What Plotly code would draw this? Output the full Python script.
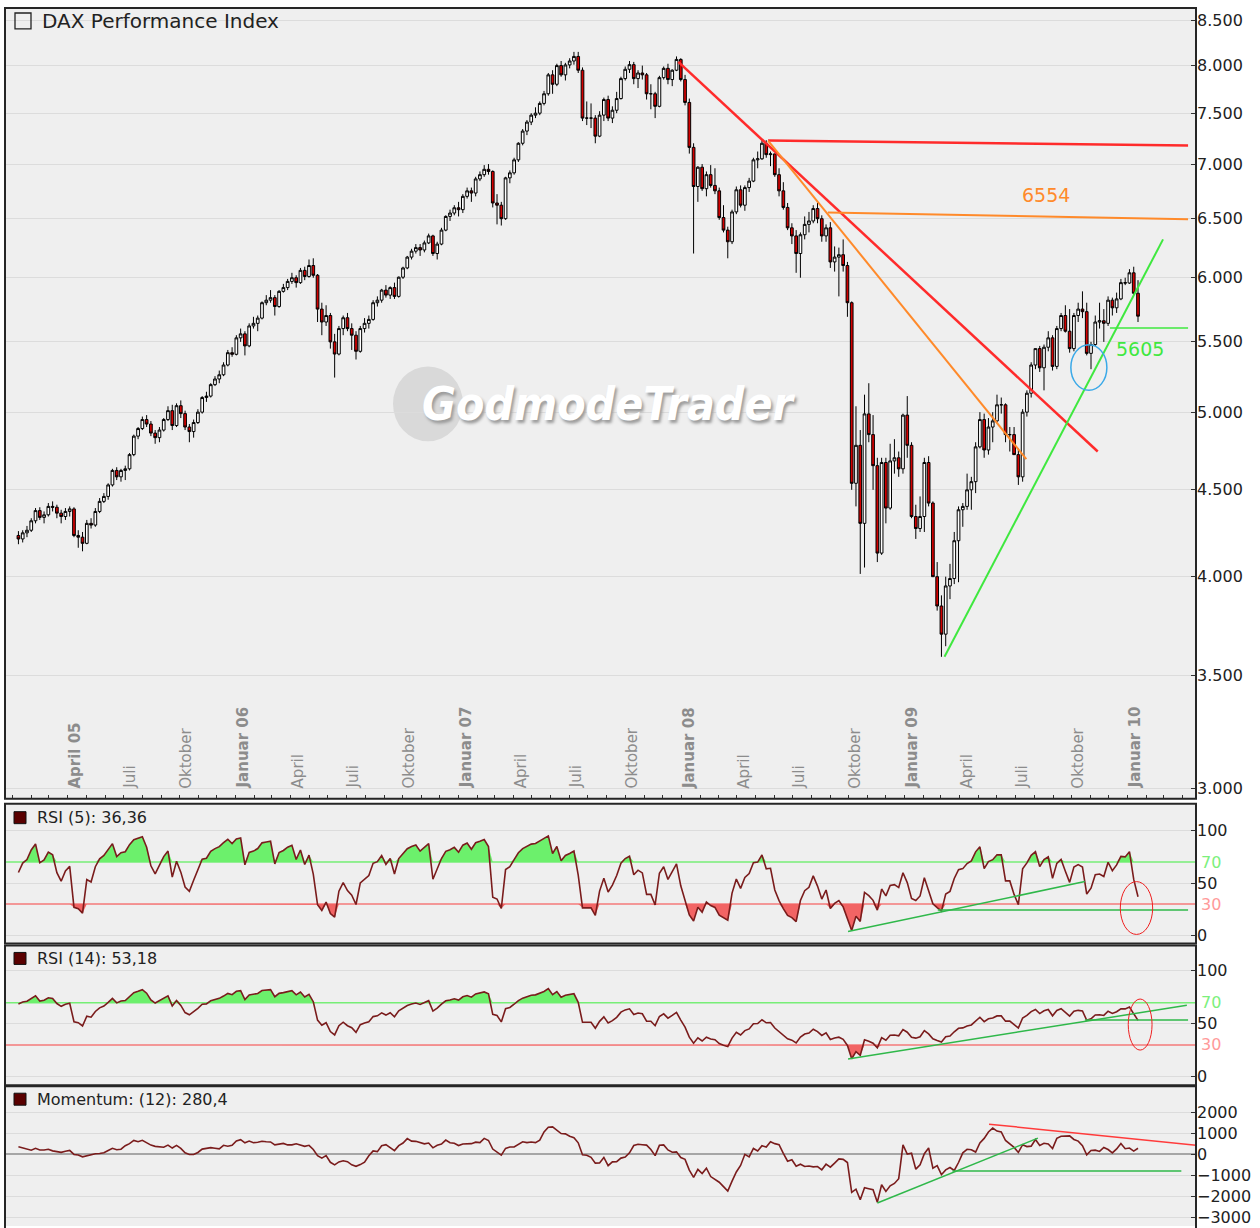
import numpy as np
import pandas as pd
import plotly.graph_objects as go

W, H = 1260, 1228
FONT = "DejaVu Sans"

# ---------------- data (weekly DAX candles) ----------------
first_week = "2005-01-10"
warmup_closes = [3960, 3990, 3880, 3860, 3950, 4040, 4130, 4100, 4140, 4150,
                 4170, 4240, 4250, 4256, 4230]

opens = [
    4230, 4210, 4245, 4260, 4315, 4375, 4335, 4350, 4400, 4395,
    4360, 4340, 4370, 4385, 4230, 4220, 4185, 4300, 4290, 4370,
    4430, 4460, 4530, 4620, 4580, 4620, 4630, 4720, 4840, 4890,
    4950, 4920, 4860, 4830, 4880, 4950, 5010, 4910, 5044, 4990,
    4900, 4870, 4930, 5000, 5100, 5110, 5190, 5230, 5260, 5330,
    5420,
    5408, 5530, 5560, 5470, 5620, 5640, 5680, 5800, 5820,
    5840, 5770, 5890, 5920, 5970, 6000, 5960, 6060, 6010, 6100,
    6020, 5750, 5650, 5700, 5500, 5410, 5600, 5683, 5600, 5550,
    5430, 5600, 5640, 5670, 5800, 5820, 5900, 5860, 5920, 5850,
    6004, 6080, 6170, 6220, 6250, 6230, 6290, 6350, 6200, 6280,
    6400, 6520, 6550,
    6597, 6580, 6700, 6750, 6730, 6860, 6900,
    6950, 6930, 6640, 6620, 6500, 6870, 6917, 7040, 7200, 7320,
    7410, 7480, 7500, 7600, 7700, 7900, 7800, 8000, 7900, 8007,
    8050, 8100, 7950, 7450, 7450, 7450, 7270, 7480, 7640, 7450,
    7530, 7650, 7860, 7960, 8010, 7860, 7920, 7900, 7700, 7700,
    7570, 7870, 7970, 7850, 7950,
    8067, 7850, 7610, 7160, 6790,
    6970, 6770, 6900, 6800, 6750, 6510, 6400, 6300, 6560, 6760,
    6620, 6780, 6840, 7040, 7050, 7200, 7090, 7097, 6900, 6750,
    6600, 6420, 6350, 6200, 6360, 6450, 6480, 6590, 6500, 6350,
    6420, 6130, 6170, 6190, 6100, 5800, 4540, 4780, 4300, 4988,
    4850, 4650, 4130, 4670, 4390, 4680, 4700,
    4630, 4980, 4780,
    4340, 4270, 4340, 4670, 4420, 4000, 3844, 3700, 3950, 3990,
    4200, 4380, 4400, 4500, 4550, 4770, 4950, 4750, 4900, 4941,
    5050, 5050, 4850, 4850, 4720, 4580, 5000, 5130, 5330, 5450,
    5310, 5460, 5530, 5320, 5600, 5700, 5580, 5450, 5700, 5750,
    5730, 5415, 5480, 5650, 5660, 5640, 5820, 5760, 5830, 5960,
    5957, 6040, 5875,
]

highs = [
    4255, 4260, 4285, 4330, 4390, 4395, 4370, 4420, 4430, 4410,
    4380, 4390, 4400, 4395, 4260, 4250, 4320, 4330, 4390, 4450,
    4480, 4540, 4630, 4640, 4630, 4650, 4730, 4850, 4900, 4970,
    4980, 4940, 4880, 4900, 4960, 5040, 5050, 5060, 5080, 5010,
    4920, 4950, 5020, 5110, 5140, 5200, 5250, 5290, 5350, 5440,
    5460,
    5550, 5600, 5580, 5640, 5690, 5700, 5810, 5860, 5900,
    5860, 5900, 5950, 5990, 6040, 6020, 6080, 6090, 6150, 6160,
    6030, 5800, 5780, 5720, 5560, 5620, 5700, 5720, 5640, 5580,
    5620, 5680, 5700, 5820, 5850, 5910, 5940, 5930, 5960, 6010,
    6090, 6180, 6240, 6280, 6280, 6310, 6370, 6360, 6300, 6420,
    6530, 6580, 6620,
    6650, 6720, 6780, 6780, 6880, 6930, 6990,
    7000, 6940, 6720, 6650, 6880, 6940, 7060, 7210, 7340, 7430,
    7500, 7560, 7620, 7730, 7920, 7950, 8020, 8050, 8030, 8080,
    8150, 8150, 7980, 7620, 7600, 7480, 7520, 7660, 7680, 7570,
    7720, 7880, 7990, 8050, 8040, 7950, 8000, 7920, 7800, 7720,
    7890, 7990, 8020, 7960, 8100,
    8080, 7900, 7650, 7200, 6980,
    7000, 6930, 6990, 6960, 6780, 6620, 6430, 6580, 6790, 6800,
    6800, 6870, 7060, 7120, 7230, 7230, 7120, 7100, 6960, 6830,
    6640, 6460, 6400, 6380, 6520, 6560, 6620, 6640, 6530, 6450,
    6470, 6260, 6250, 6320, 6130, 5810, 5040, 4880, 5120, 5200,
    4980, 4700, 4700, 4700, 4790, 4820, 4740,
    4990, 5110, 4800,
    4410, 4460, 4700, 4710, 4430, 4080, 3900, 4000, 4070, 4250,
    4400, 4420, 4600, 4580, 4800, 5000, 4990, 4960, 5000, 5120,
    5100, 5060, 4900, 4900, 4760, 5020, 5150, 5350, 5450, 5470,
    5480, 5580, 5550, 5620, 5720, 5780, 5750, 5720, 5800, 5890,
    5800, 5500, 5700, 5800, 5750, 5850, 5840, 5880, 5990, 6000,
    6070, 6090, 5980,
]

lows = [
    4180, 4190, 4220, 4250, 4300, 4320, 4300, 4340, 4370, 4330,
    4300, 4320, 4340, 4220, 4160, 4140, 4180, 4270, 4280, 4360,
    4420, 4440, 4520, 4560, 4550, 4560, 4620, 4710, 4820, 4880,
    4900, 4840, 4790, 4800, 4870, 4940, 4880, 4900, 4960, 4880,
    4800, 4830, 4920, 4990, 5070, 5100, 5180, 5200, 5250, 5320,
    5390,
    5400, 5500, 5400, 5460, 5600, 5580, 5670, 5780, 5800,
    5700, 5760, 5880, 5900, 5950, 5920, 5950, 5980, 6000, 6000,
    5650, 5550, 5620, 5450, 5240, 5400, 5550, 5580, 5440, 5370,
    5420, 5570, 5600, 5660, 5770, 5800, 5840, 5830, 5830, 5840,
    5990, 6070, 6150, 6200, 6180, 6210, 6280, 6180, 6150, 6270,
    6390, 6480, 6530,
    6520, 6550, 6680, 6650, 6700, 6840, 6880,
    6900, 6600, 6450, 6440, 6490, 6820, 6900, 7020, 7180, 7280,
    7380, 7450, 7480, 7580, 7680, 7700, 7780, 7880, 7840, 7970,
    8010, 7920, 7420, 7380, 7350, 7200, 7260, 7420, 7420, 7400,
    7500, 7640, 7840, 7920, 7800, 7760, 7850, 7640, 7540, 7450,
    7560, 7850, 7800, 7780, 7940,
    7830, 7580, 7100, 6200, 6650,
    6750, 6700, 6780, 6720, 6490, 6380, 6160, 6280, 6540, 6600,
    6570, 6740, 6830, 6960, 7040, 7060, 6980, 6880, 6700, 6580,
    6400, 6280, 6040, 6000, 6320, 6380, 6460, 6460, 6300, 6300,
    6080, 6050, 5850, 6050, 5690, 4500, 4400, 4015, 4050, 4800,
    4500, 4080, 4120, 4300, 4380, 4600, 4580,
    4600, 4700, 4330,
    4210, 4250, 4250, 4400, 4000, 3820, 3588, 3640, 3880, 3960,
    3970, 4280, 4380, 4380, 4480, 4760, 4700, 4720, 4800, 4930,
    4990, 4800, 4740, 4720, 4530, 4550, 4970, 5100, 5300, 5280,
    5150, 5430, 5290, 5300, 5580, 5570, 5420, 5430, 5650, 5680,
    5400, 5300, 5470, 5600, 5500, 5620, 5700, 5720, 5820, 5940,
    5950, 5860, 5650,
]

closes = [
    4210, 4245, 4260, 4315, 4375, 4335, 4350, 4400, 4395, 4360,
    4340, 4370, 4385, 4230, 4220, 4185, 4300, 4290, 4370, 4430,
    4460, 4530, 4620, 4580, 4620, 4630, 4720, 4840, 4890, 4950,
    4920, 4860, 4830, 4880, 4950, 5010, 4910, 5044, 4990, 4900,
    4870, 4930, 5000, 5100, 5110, 5190, 5230, 5260, 5330, 5420,
    5408,
    5530, 5560, 5470, 5620, 5640, 5680, 5800, 5820, 5840,
    5770, 5890, 5920, 5970, 6000, 5960, 6060, 6010, 6100, 6020,
    5750, 5650, 5700, 5500, 5410, 5600, 5683, 5600, 5550, 5430,
    5600, 5640, 5670, 5800, 5820, 5900, 5860, 5920, 5850, 6004,
    6080, 6170, 6220, 6250, 6230, 6290, 6350, 6200, 6280, 6400,
    6520, 6550, 6597,
    6580, 6700, 6750, 6730, 6860, 6900, 6950,
    6930, 6640, 6620, 6500, 6870, 6917, 7040, 7200, 7320, 7410,
    7480, 7500, 7600, 7700, 7900, 7800, 8000, 7900, 8007, 8050,
    8100, 7950, 7450, 7450, 7450, 7270, 7480, 7640, 7450, 7530,
    7650, 7860, 7960, 8010, 7860, 7920, 7900, 7700, 7700, 7570,
    7870, 7970, 7850, 7950, 8067,
    7850, 7610, 7160, 6790, 6970,
    6770, 6900, 6800, 6750, 6510, 6400, 6300, 6560, 6760, 6620,
    6780, 6840, 7040, 7050, 7200, 7090, 7097, 6900, 6750, 6600,
    6420, 6350, 6200, 6360, 6450, 6480, 6590, 6500, 6350, 6420,
    6130, 6170, 6190, 6100, 5800, 4540, 4780, 4300, 4988, 4850,
    4650, 4130, 4670, 4390, 4680, 4700, 4630,
    4980, 4780, 4340,
    4270, 4340, 4670, 4420, 4000, 3844, 3700, 3950, 3990, 4200,
    4380, 4400, 4500, 4550, 4770, 4950, 4750, 4900, 4941, 5050,
    5050, 4850, 4850, 4720, 4580, 5000, 5130, 5330, 5450, 5310,
    5460, 5530, 5320, 5600, 5700, 5580, 5450, 5700, 5750, 5730,
    5415, 5480, 5650, 5660, 5640, 5820, 5760, 5830, 5960, 5957,
    6040, 5875, 5695,
]

price_ticks = [3000, 3500, 4000, 4500, 5000, 5500, 6000, 6500, 7000, 7500, 8000, 8500]
price_tick_labels = ["3.000", "3.500", "4.000", "4.500", "5.000", "5.500",
                     "6.000", "6.500", "7.000", "7.500", "8.000", "8.500"]
mom_ticks = [-3000, -2000, -1000, 0, 1000, 2000]
mom_tick_labels = ["\u22123000", "\u22122000", "\u22121000", "0", "1000", "2000"]

month_label_dates = ["2005-04-01", "2005-07-01", "2005-10-01", "2006-01-01", "2006-04-01",
                     "2006-07-01", "2006-10-01", "2007-01-01", "2007-04-01", "2007-07-01",
                     "2007-10-01", "2008-01-01", "2008-04-01", "2008-07-01", "2008-10-01",
                     "2009-01-01", "2009-04-01", "2009-07-01", "2009-10-01", "2010-01-01"]
month_label_texts = ["April 05", "Juli", "Oktober", "Januar 06", "April", "Juli", "Oktober",
                     "Januar 07", "April", "Juli", "Oktober", "Januar 08", "April", "Juli",
                     "Oktober", "Januar 09", "April", "Juli", "Oktober", "Januar 10"]

# analyst trend lines (dates, values)
red_trend_dates, red_trend_values = ["2007-12-27", "2009-11-13"], [8041, 4740]
red_level_dates, red_level_values = ["2008-05-22", "2010-04-10"], [7227, 7178]
orange_trend_dates, orange_trend_values = ["2008-05-22", "2009-07-19"], [7227, 4692]
orange_level_dates, orange_level_values = ["2008-08-28", "2010-04-10"], [6554, 6495]
green_trend_dates, green_trend_values = ["2009-03-07", "2010-02-28"], [3588, 6320]
green_level_dates, green_level_values = ["2009-12-03", "2010-04-10"], [5605, 5605]
circle_dates, circle_values = ["2009-09-30", "2009-11-28"], [5150, 5479]

rsi5_trend_dates, rsi5_trend_values = ["2008-09-30", "2009-10-23"], [3.8, 51.4]
rsi5_level_dates, rsi5_level_values = ["2009-02-24", "2010-04-10"], [24.3, 24.3]
rsi5_ellipse_dates, rsi5_ellipse_values = ["2009-12-20", "2010-02-11"], [1, 51.4]
rsi14_trend_dates, rsi14_trend_values = ["2008-09-30", "2010-04-08"], [16.8, 67.5]
rsi14_level_dates, rsi14_level_values = ["2009-10-23", "2010-04-10"], [53.6, 53.6]
rsi14_ellipse_dates, rsi14_ellipse_values = ["2010-01-02", "2010-02-10"], [25.2, 73.4]
mom_red_dates, mom_red_values = ["2009-05-19", "2010-04-23"], [1430, 424]
mom_green_dates, mom_green_values = ["2008-11-17", "2009-08-07"], [-2333, 762]
mom_level_dates, mom_level_values = ["2009-03-20", "2010-03-30"], [-810, -810]

# ---------------- indicators computed from the closes ----------------
def wilder_rsi(values, n):
    v = np.asarray(values, float)
    d = np.diff(v)
    up = np.clip(d, 0, None)
    dn = np.clip(-d, 0, None)
    out = np.full(v.size, np.nan)
    au, ad = up[:n].mean(), dn[:n].mean()
    out[n] = 100.0 if ad == 0 else 100 - 100 / (1 + au / ad)
    for i in range(n + 1, v.size):
        au = (au * (n - 1) + up[i - 1]) / n
        ad = (ad * (n - 1) + dn[i - 1]) / n
        out[i] = 100.0 if ad == 0 else 100 - 100 / (1 + au / ad)
    return out

nw = len(warmup_closes)
full = np.array(warmup_closes + closes, float)
rsi5 = wilder_rsi(full, 5)[nw:]
rsi14 = wilder_rsi(full, 14)[nw:]
mom12 = (full[12:] - full[:-12])[nw - 12:]

n = len(closes)
assert len(opens) == len(highs) == len(lows) == n
dates = pd.date_range(first_week, periods=n, freq="7D")

# ---------------- layout geometry ----------------
X_DOM = [5 / W, 1196 / W]
def ydom(top_px, bottom_px):
    return [max(0.0, 1 - bottom_px / H), 1 - top_px / H]
def px_y(p):
    return 1 - p / H
def px_x(p):
    return p / W

X_RANGE = ["2004-12-19", "2010-04-23"]
BG = "#efefef"
GRID = "#dcdcdc"
RSI_COL = "#7a1c1c"
G70 = "#77ee77"
R30 = "#f47a7a"

fig = go.Figure()

fig.add_trace(go.Candlestick(
    x=dates, open=opens, high=highs, low=lows, close=closes,
    increasing=dict(line=dict(color="#000000", width=1), fillcolor="#ffffff"),
    decreasing=dict(line=dict(color="#000000", width=1), fillcolor="#d30000"),
    whiskerwidth=0, hoverinfo="skip", showlegend=False, xaxis="x", yaxis="y"))

def seg(xs, ys, color, width, xa="x", ya="y", dash=None):
    fig.add_trace(go.Scatter(x=xs, y=ys, mode="lines",
                             line=dict(color=color, width=width, dash=dash),
                             hoverinfo="skip", showlegend=False, xaxis=xa, yaxis=ya))

seg(red_trend_dates, red_trend_values, "#ff2b2b", 2.5)
seg(red_level_dates, red_level_values, "#ff2b2b", 2.5)
seg(orange_trend_dates, orange_trend_values, "#ff8a2a", 2)
seg(orange_level_dates, orange_level_values, "#ff8a2a", 2)
seg(green_trend_dates, green_trend_values, "#3fe83f", 2)
seg(green_level_dates, green_level_values, "#3fe83f", 1.5)

def rsi_panel(vals, xa, ya):
    clear = dict(width=0, color="rgba(0,0,0,0)")
    fig.add_trace(go.Scatter(x=dates, y=np.full(n, 70.0), mode="lines", line=clear,
                             hoverinfo="skip", showlegend=False, xaxis=xa, yaxis=ya))
    fig.add_trace(go.Scatter(x=dates, y=np.maximum(vals, 70.0), mode="lines", line=clear,
                             fill="tonexty", fillcolor="#6cf06c",
                             hoverinfo="skip", showlegend=False, xaxis=xa, yaxis=ya))
    fig.add_trace(go.Scatter(x=dates, y=np.full(n, 30.0), mode="lines", line=clear,
                             hoverinfo="skip", showlegend=False, xaxis=xa, yaxis=ya))
    fig.add_trace(go.Scatter(x=dates, y=np.minimum(vals, 30.0), mode="lines", line=clear,
                             fill="tonexty", fillcolor="#f26464",
                             hoverinfo="skip", showlegend=False, xaxis=xa, yaxis=ya))
    fig.add_trace(go.Scatter(x=dates, y=vals, mode="lines",
                             line=dict(color=RSI_COL, width=1.6),
                             hoverinfo="skip", showlegend=False, xaxis=xa, yaxis=ya))

rsi_panel(rsi5, "x2", "y2")
seg(rsi5_trend_dates, rsi5_trend_values, "#2fb84a", 1.5, "x2", "y2")
seg(rsi5_level_dates, rsi5_level_values, "#2fb84a", 1.5, "x2", "y2")
rsi_panel(rsi14, "x3", "y3")
seg(rsi14_trend_dates, rsi14_trend_values, "#2fb84a", 1.5, "x3", "y3")
seg(rsi14_level_dates, rsi14_level_values, "#2fb84a", 1.5, "x3", "y3")

fig.add_trace(go.Scatter(x=dates, y=mom12, mode="lines", line=dict(color=RSI_COL, width=1.6),
                         hoverinfo="skip", showlegend=False, xaxis="x4", yaxis="y4"))
seg(mom_red_dates, mom_red_values, "#ff3b3b", 1.5, "x4", "y4")
seg(mom_green_dates, mom_green_values, "#2fb84a", 1.5, "x4", "y4")
seg(mom_level_dates, mom_level_values, "#2fb84a", 1.5, "x4", "y4")

# ---------------- axes ----------------
tickfont = dict(family=FONT, size=16, color="#222222")
xcommon = dict(domain=X_DOM, type="date", range=X_RANGE, showgrid=False, zeroline=False,
               showline=False, showticklabels=False, fixedrange=True)
layout = dict(
    width=W, height=H, margin=dict(l=0, r=0, t=0, b=0),
    paper_bgcolor="#ffffff", plot_bgcolor=BG, showlegend=False, hovermode=False,
    dragmode=False, boxgap=0.1,
    xaxis=dict(**xcommon, anchor="y", ticks="inside", ticklen=4, tickcolor="#333333",
               dtick="M1", tick0="2005-01-01", rangeslider=dict(visible=False)),
    xaxis2=dict(**xcommon, anchor="y2", matches="x", ticks=""),
    xaxis3=dict(**xcommon, anchor="y3", matches="x", ticks=""),
    xaxis4=dict(**xcommon, anchor="y4", matches="x", ticks=""),
    yaxis=dict(domain=ydom(8, 800), type="log",
               range=[np.log10(2960), np.log10(8650)], side="right", anchor="x",
               tickvals=price_ticks, ticktext=price_tick_labels, ticks="inside",
               ticklen=5, tickcolor="#333333", gridcolor=GRID, zeroline=False,
               showline=False, tickfont=tickfont, fixedrange=True),
    yaxis2=dict(domain=ydom(805, 945), range=[-7.6, 125.7], side="right", anchor="x2",
                tickvals=[0, 50, 100], ticks="inside", ticklen=5, tickcolor="#333333",
                gridcolor=GRID, zeroline=False, showline=False, tickfont=tickfont,
                fixedrange=True),
    yaxis3=dict(domain=ydom(947, 1087), range=[-8.0, 124.0], side="right", anchor="x3",
                tickvals=[0, 50, 100], ticks="inside", ticklen=5, tickcolor="#333333",
                gridcolor=GRID, zeroline=False, showline=False, tickfont=tickfont,
                fixedrange=True),
    yaxis4=dict(domain=ydom(1088, 1228), range=[-3428, 3238], side="right", anchor="x4",
                tickvals=mom_ticks, ticktext=mom_tick_labels, ticks="inside", ticklen=5,
                tickcolor="#333333", gridcolor=GRID, zeroline=True,
                zerolinecolor="#a6a6a6", zerolinewidth=2, showline=False,
                tickfont=tickfont, fixedrange=True),
)
fig.update_layout(**layout)

# ---------------- shapes ----------------
shapes = []
for top, bottom in [(8, 800), (805, 945), (947, 1087), (1088, 1245)]:
    shapes.append(dict(type="rect", xref="paper", yref="paper",
                       x0=px_x(5), x1=px_x(1196), y0=px_y(bottom), y1=px_y(top),
                       line=dict(color="#262626", width=2), fillcolor="rgba(0,0,0,0)",
                       layer="above"))
for ya in ["y2", "y3"]:
    xa = "x" + ya[1:]
    shapes.append(dict(type="line", xref=f"{xa} domain", yref=ya, x0=0, x1=1, y0=70, y1=70,
                       line=dict(color=G70, width=1.5), layer="below"))
    shapes.append(dict(type="line", xref=f"{xa} domain", yref=ya, x0=0, x1=1, y0=30, y1=30,
                       line=dict(color=R30, width=1.5), layer="below"))
shapes.append(dict(type="circle", xref="x", yref="y", x0=circle_dates[0], x1=circle_dates[1],
                   y0=circle_values[0], y1=circle_values[1],
                   line=dict(color="#3aa9e8", width=1.5)))
shapes.append(dict(type="circle", xref="x2", yref="y2", x0=rsi5_ellipse_dates[0],
                   x1=rsi5_ellipse_dates[1], y0=rsi5_ellipse_values[0],
                   y1=rsi5_ellipse_values[1], line=dict(color="#ee2020", width=1)))
shapes.append(dict(type="circle", xref="x3", yref="y3", x0=rsi14_ellipse_dates[0],
                   x1=rsi14_ellipse_dates[1], y0=rsi14_ellipse_values[0],
                   y1=rsi14_ellipse_values[1], line=dict(color="#ee2020", width=1)))
shapes.append(dict(type="rect", xref="paper", yref="paper", x0=px_x(15), x1=px_x(31),
                   y0=px_y(29), y1=px_y(13), line=dict(color="#222222", width=1.3),
                   fillcolor="rgba(0,0,0,0)"))
for top in [813, 954, 1095]:
    shapes.append(dict(type="rect", xref="paper", yref="paper", x0=px_x(14), x1=px_x(26),
                       y0=px_y(top + 12), y1=px_y(top), line=dict(color="#111111", width=1),
                       fillcolor="#5a0000"))
shapes.append(dict(type="circle", xref="paper", yref="paper", x0=px_x(393), x1=px_x(463),
                   y0=px_y(442), y1=px_y(367), line=dict(width=0), fillcolor="#d9d9d9",
                   layer="below"))
fig.update_layout(shapes=shapes)

# ---------------- annotations ----------------
ann = []
ann.append(dict(text="DAX Performance Index", xref="paper", yref="paper", x=px_x(40),
                y=px_y(21), xanchor="left", yanchor="middle", showarrow=False,
                font=dict(family=FONT, size=20, color="#222222")))
for label, yc in [("RSI (5): 36,36", 819), ("RSI (14): 53,18", 960),
                  ("Momentum: (12): 280,4", 1101)]:
    ann.append(dict(text=label, xref="paper", yref="paper", x=px_x(35), y=px_y(yc),
                    xanchor="left", yanchor="middle", showarrow=False,
                    font=dict(family=FONT, size=16, color="#222222")))
for ya in ["y2", "y3"]:
    ann.append(dict(text="70", xref="paper", yref=ya, x=px_x(1199), y=70, xanchor="left",
                    yanchor="middle", showarrow=False,
                    font=dict(family=FONT, size=16, color="#7cf07c")))
    ann.append(dict(text="30", xref="paper", yref=ya, x=px_x(1199), y=30, xanchor="left",
                    yanchor="middle", showarrow=False,
                    font=dict(family=FONT, size=16, color="#ff9a9a")))
for d, t in zip(month_label_dates, month_label_texts):
    bold = any(ch.isdigit() for ch in t)
    ann.append(dict(text=f"<b>{t}</b>" if bold else t, xref="x", yref="paper", x=d,
                    y=px_y(792), xanchor="center", yanchor="bottom", textangle=-90,
                    xshift=7, showarrow=False,
                    font=dict(family=FONT, size=15, color="#8c8c8c")))
ann.append(dict(text="6554", xref="x", yref="y", x="2009-08-20", y=np.log10(6710),
                showarrow=False, font=dict(family=FONT, size=19, color="#ff8a2a")))
ann.append(dict(text="5605", xref="x", yref="y", x="2010-01-21", y=np.log10(5448),
                showarrow=False, font=dict(family=FONT, size=19, color="#3fe83f")))
ann.append(dict(text="GodmodeTrader", xref="paper", yref="paper", x=px_x(609),
                y=px_y(405), xanchor="center", yanchor="middle", showarrow=False,
                font=dict(family="DejaVu Sans Condensed, DejaVu Sans", size=46,
                          color="#ffffff", weight="bold", style="italic",
                          shadow="2px 3px 3px #9c9c9c")))
fig.update_layout(annotations=ann)

fig.write_html("out.html", config={"displayModeBar": False},
               post_script="document.body.style.margin='0';")
